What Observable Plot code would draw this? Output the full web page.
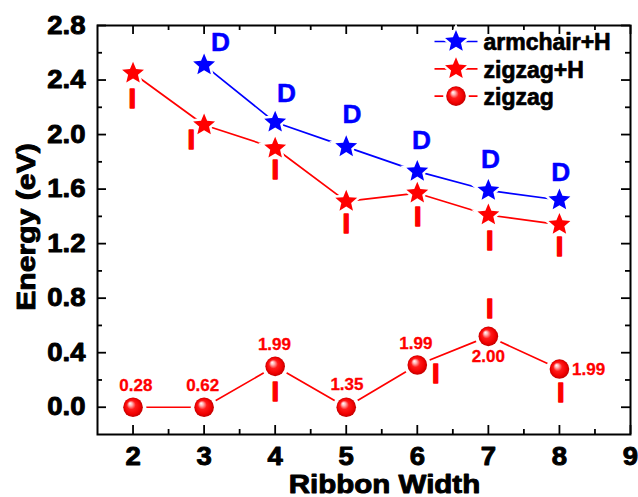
<!DOCTYPE html>
<html><head><meta charset="utf-8">
<script src="https://cdn.jsdelivr.net/npm/d3@7"></script>
<script src="https://cdn.jsdelivr.net/npm/@observablehq/plot@0.6"></script>
<style>body{margin:0;background:#fff;}</style>
</head><body><div id="chart"></div>
<script>
// ---- data ----
const ribbonWidths = [2, 3, 4, 5, 6, 7, 8];
const armchairWidths = [3, 4, 5, 6, 7, 8];
const armchairH = [2.51, 2.09, 1.91, 1.73, 1.59, 1.52];
const zigzagH = [2.45, 2.07, 1.90, 1.51, 1.57, 1.41, 1.34];
const zigzag = [0.00, 0.00, 0.30, 0.00, 0.31, 0.52, 0.28];
const seriesNames = ["armchair+H", "zigzag+H", "zigzag"];
const xTitle = "Ribbon Width";
const yTitle = "Energy (eV)";
const xTicks = [2, 3, 4, 5, 6, 7, 8, 9];
const xMinorTicks = [2.5, 3.5, 4.5, 5.5, 6.5, 7.5, 8.5];
const yTicks = [0.0, 0.4, 0.8, 1.2, 1.6, 2.0, 2.4, 2.8];
const yMinorTicks = [0.2, 0.6, 1.0, 1.4, 1.8, 2.2, 2.6];
// annotations (anchors in data units)
const dLabelX = [3.23, 4.16, 5.08, 6.06, 7.03, 8.02];
const dLabelY = [2.67, 2.30, 2.14, 1.95, 1.81, 1.72];
const iLabelHX = [1.99, 2.82, 4.00, 5.00, 6.005, 7.02, 8.00];
const iLabelHY = [2.26, 1.96, 1.74, 1.34, 1.39, 1.22, 1.17];
const iLabelX = [4.00, 6.26, 7.02, 8.02];
const iLabelY = [0.11, 0.24, 0.72, 0.10];
const gapLabels = ["0.28", "0.62", "1.99", "1.35", "1.99", "2.00", "1.99"];
const gapLabelX = [2.04, 2.98, 3.99, 5.01, 5.98, 7.00, 8.41];
const gapLabelY = [0.16, 0.16, 0.46, 0.17, 0.47, 0.37, 0.275];

// ---- layout / style ----
const W = 638, H = 497, mL = 97, mR = 8, mT = 25, mB = 63;
const PH = H - mT - mB;
const PW = W - mL - mR;
const major = 9, minor = 5;
const font = "'Liberation Sans', Arial, Helvetica, sans-serif";
const blue = "#0000ff", red = "#ff0000";

const arm = armchairWidths.map((x, i) => ({x, y: armchairH[i]}));
const zzH = ribbonWidths.map((x, i) => ({x, y: zigzagH[i]}));
const zz = ribbonWidths.map((x, i) => ({x, y: zigzag[i]}));
const dLab = dLabelX.map((x, i) => ({x, y: dLabelY[i]}));
const iLabH = iLabelHX.map((x, i) => ({x, y: iLabelHY[i]}));
const iLab = iLabelX.map((x, i) => ({x, y: iLabelY[i]}));
const gLab = gapLabelX.map((x, i) => ({x, y: gapLabelY[i], t: gapLabels[i]}));

// Origin-like fat star
function starSymbol(R, ratio) {
  return {draw(ctx) {
    for (let k = 0; k < 10; k++) {
      const a = -Math.PI / 2 + k * Math.PI / 5;
      const rr = k % 2 ? R * ratio : R;
      const px = rr * Math.cos(a), py = rr * Math.sin(a);
      k ? ctx.lineTo(px, py) : ctx.moveTo(px, py);
    }
    ctx.closePath();
  }};
}
const star = starSymbol(11.5, 0.45);
const sphereR = 9.8;
const lineSymbol = {draw(ctx) { ctx.moveTo(-21.5, 0); ctx.lineTo(21.5, 0); }};
const colors = [blue, red, red];
const isStar = [true, true, false];

const legendMarks = [];
seriesNames.forEach((name, i) => {
  const dy = 16 + i * 27.3;
  const sym = isStar[i] ? star : "circle";
  legendMarks.push(
    Plot.dot([0], {frameAnchor: "top-right", dx: -174.5, dy, symbol: lineSymbol, stroke: colors[i], strokeWidth: 1.7, fill: "none"}),
    Plot.dot([0], {frameAnchor: "top-right", dx: -174.5, dy, symbol: sym, r: sphereR + (isStar[i] ? 0 : 3), fill: "white", stroke: "white", strokeWidth: isStar[i] ? 5 : 0}),
    Plot.dot([0], {frameAnchor: "top-right", dx: -174.5, dy, symbol: sym, r: sphereR, fill: isStar[i] ? colors[i] : "url(#sphere)", stroke: "none"}),
    Plot.text([name], {frameAnchor: "top-right", lineAnchor: "middle", dx: -147, dy: dy + 1.5, text: d => d, textAnchor: "start", fontSize: 23, fill: "black"})
  );
});

const svg = Plot.plot({
  width: W, height: H,
  marginLeft: mL, marginRight: mR, marginTop: mT, marginBottom: mB,
  x: {domain: [1.5, 9]},
  y: {domain: [-0.2, 2.8]},
  style: {fontFamily: font, fontWeight: "bold", background: "white", color: "black"},
  marks: [
    // ticks (inward, mirrored)
    Plot.tickX(xTicks, {x: d => d, insetTop: PH - major, strokeWidth: 1.8}),
    Plot.tickX(xTicks, {x: d => d, insetBottom: PH - major, strokeWidth: 1.8}),
    Plot.tickX(xMinorTicks, {x: d => d, insetTop: PH - minor, strokeWidth: 1.8}),
    Plot.tickX(xMinorTicks, {x: d => d, insetBottom: PH - minor, strokeWidth: 1.8}),
    Plot.tickY(yTicks, {y: d => d, insetRight: PW - major, strokeWidth: 1.8}),
    Plot.tickY(yTicks, {y: d => d, insetLeft: PW - major, strokeWidth: 1.8}),
    Plot.tickY(yMinorTicks, {y: d => d, insetRight: PW - minor, strokeWidth: 1.8}),
    Plot.tickY(yMinorTicks, {y: d => d, insetLeft: PW - minor, strokeWidth: 1.8}),
    Plot.axisX({ticks: xTicks, tickSize: 0, tickPadding: 13, fontSize: 25, label: null, tickFormat: d => String(d)}),
    Plot.axisY({ticks: yTicks, tickSize: 0, tickPadding: 12, fontSize: 25, label: null, tickFormat: d => d.toFixed(1)}),
    Plot.frame({stroke: "black", strokeWidth: 2}),
    // axis titles
    Plot.text([xTitle], {frameAnchor: "bottom", lineAnchor: "middle", textAnchor: "middle", text: d => d, dx: 20.5, dy: 50, fontSize: 25, fill: "black"}),
    Plot.text([yTitle], {frameAnchor: "left", lineAnchor: "middle", textAnchor: "middle", text: d => d, rotate: -90, dx: -70.5, dy: -3, fontSize: 26, fill: "black"}),
    // lines
    Plot.line(zz, {x: "x", y: "y", stroke: red, strokeWidth: 1.7}),
    Plot.line(zzH, {x: "x", y: "y", stroke: red, strokeWidth: 1.7}),
    Plot.line(arm, {x: "x", y: "y", stroke: blue, strokeWidth: 1.7}),
    // white gaps around markers
    Plot.dot(zz, {x: "x", y: "y", r: sphereR + 3.5, fill: "white"}),
    Plot.dot(zzH, {x: "x", y: "y", symbol: star, fill: "white", stroke: "white", strokeWidth: 5}),
    Plot.dot(arm, {x: "x", y: "y", symbol: star, fill: "white", stroke: "white", strokeWidth: 5}),
    // markers
    Plot.dot(zz, {x: "x", y: "y", r: sphereR, fill: "url(#sphere)", stroke: "none"}),
    Plot.dot(zzH, {x: "x", y: "y", symbol: star, fill: red, stroke: "none"}),
    Plot.dot(arm, {x: "x", y: "y", symbol: star, fill: blue, stroke: "none"}),
    // annotations
    Plot.text(dLab, {x: "x", y: "y", text: () => "D", fill: blue, stroke: blue, strokeWidth: 0.5, fontSize: 25}),
    Plot.text(iLabH, {x: "x", y: "y", text: () => "I", fill: red, stroke: red, strokeWidth: 1.4, fontSize: 27}),
    Plot.text(iLab, {x: "x", y: "y", text: () => "I", fill: red, stroke: red, strokeWidth: 1.4, fontSize: 27}),
    Plot.text(gLab, {x: "x", y: "y", text: "t", fill: red, stroke: red, strokeWidth: 0.3, fontSize: 17}),
    ...legendMarks
  ]
});

// sphere gradient
const defs = d3.select(svg).insert("defs", ":first-child");
const grad = defs.append("radialGradient").attr("id", "sphere")
  .attr("cx", "50%").attr("cy", "50%").attr("r", "50%").attr("fx", "34%").attr("fy", "30%");
[["0%", "#ffffff"], ["18%", "#ffb8b8"], ["45%", "#ff1a1a"], ["80%", "#f00000"], ["100%", "#c00000"]]
  .forEach(([o, c]) => grad.append("stop").attr("offset", o).attr("stop-color", c));

document.getElementById("chart").appendChild(svg);

// widen / embolden typography like the original
function stretch(filter, s, sw) {
  d3.select(svg).selectAll("text").filter(filter).each(function () {
    const len = this.getComputedTextLength();
    if (len > 0 && s !== 1) {
      this.setAttribute("textLength", (len * s).toFixed(2));
      this.setAttribute("lengthAdjust", "spacingAndGlyphs");
    }
    if (sw) {
      this.setAttribute("stroke", "black");
      this.setAttribute("stroke-width", sw);
      this.setAttribute("paint-order", "stroke");
      this.setAttribute("stroke-linejoin", "round");
    }
  });
}
const inGroup = (name) => function () { return (this.parentNode.getAttribute("aria-label") || "") === name; };
const hasText = (list) => function () { return list.includes(this.textContent); };
stretch(inGroup("x-axis tick label"), 1.1, 0.9);
stretch(inGroup("y-axis tick label"), 1.1, 0.9);
stretch(hasText([xTitle]), 1.18, 0.9);
stretch(hasText([yTitle]), 1.16, 0.9);
stretch(hasText(["D"]), 1.05, 0);
stretch(hasText(seriesNames), 1.0, 0.7);
</script>
</body></html>
